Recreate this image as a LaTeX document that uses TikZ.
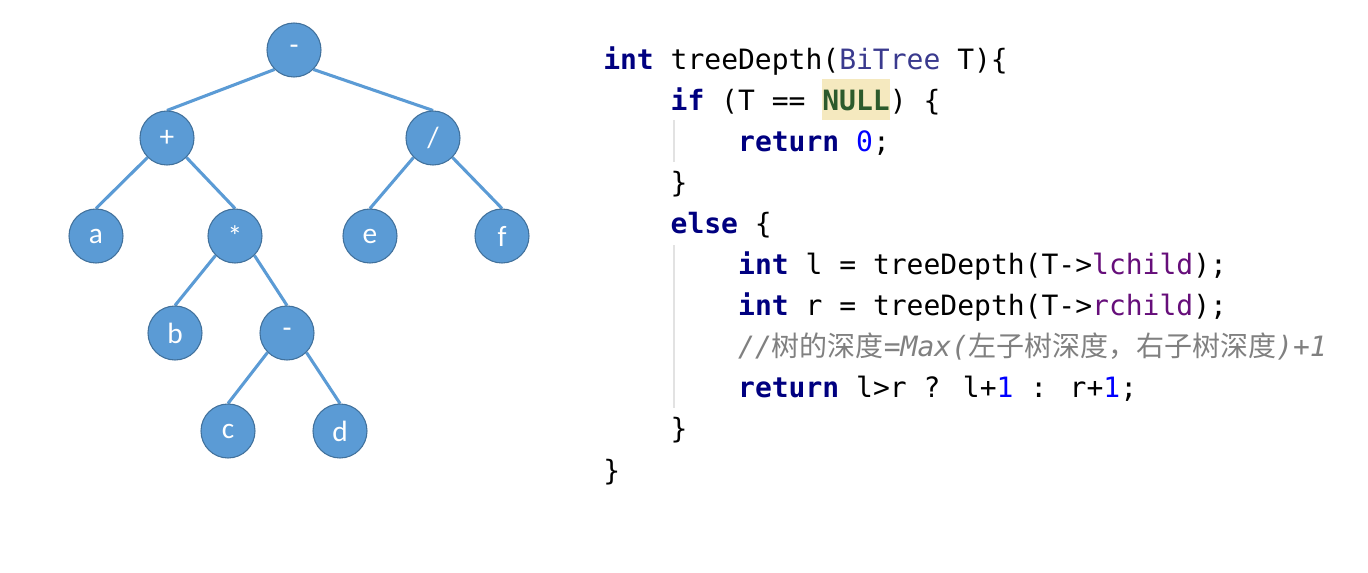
\documentclass[tikz,border=0pt]{standalone}
\usepackage{fontspec}
\setmainfont{Carlito}
\newfontfamily\codefont{DejaVu Sans Mono}
\newfontfamily\cjkfont{Noto Sans CJK SC}
\usetikzlibrary{backgrounds}
\definecolor{nodefill}{HTML}{5B9BD5}
\definecolor{nodeline}{HTML}{41719C}
\definecolor{kwc}{HTML}{000080}
\definecolor{clsc}{HTML}{3A3A8E}
\definecolor{nullc}{HTML}{2C5A2C}
\definecolor{nullbg}{HTML}{F5E9BF}
\definecolor{numc}{HTML}{0000FF}
\definecolor{fldc}{HTML}{660E7A}
\definecolor{cmtc}{HTML}{808080}
\definecolor{guidec}{HTML}{E2E2E2}
\newcommand{\kwd}[1]{{\bfseries\color{kwc}#1}}
\newcommand{\numv}[1]{{\color{numc}#1}}
\newcommand{\fldv}[1]{{\color{fldc}#1}}
\begin{document}
\begin{tikzpicture}[x=0.75pt,y=-0.75pt,
  tn/.style={circle, fill=nodefill, draw=nodeline, line width=0.8pt,
    minimum size=40.5pt, inner sep=0pt, text=white,
    font=\fontsize{22}{26}\selectfont},
  treeedge/.style={draw=nodefill, line width=2.3pt},
  codeline/.style={anchor=base west, inner sep=0pt,
    font=\codefont\fontsize{21}{25}\selectfont},
  guide/.style={draw=guidec, line width=0.8pt}]
\useasboundingbox (0,0) rectangle (1368,572);

% tree
\node[tn] (n1) at (294,50) {-};
\node[tn] (n2) at (167,138) {+};
\node[tn] (n3) at (433,138) {/};
\node[tn] (n4) at (96,236) {a};
\node[tn] (n5) at (235,236) {*};
\node[tn] (n6) at (370,236) {e};
\node[tn] (n7) at (502,236) {f};
\node[tn] (n8) at (175,333) {b};
\node[tn] (n9) at (287,333) {-};
\node[tn] (n10) at (228,431) {c};
\node[tn] (n11) at (340,431) {d};
\begin{scope}[on background layer]
\fill[white] (0,0) rectangle (1368,572);
\draw[treeedge] (n1.south west) -- (n2.north);
\draw[treeedge] (n1.south east) -- (n3.north);
\draw[treeedge] (n2.south west) -- (n4.north);
\draw[treeedge] (n2.south east) -- (n5.north);
\draw[treeedge] (n3.south west) -- (n6.north);
\draw[treeedge] (n3.south east) -- (n7.north);
\draw[treeedge] (n5.south west) -- (n8.north);
\draw[treeedge] (n5.south east) -- (n9.north);
\draw[treeedge] (n9.south west) -- (n10.north);
\draw[treeedge] (n9.south east) -- (n11.north);
\end{scope}

% code guides
\coordinate (g1a) at (674,120);
\coordinate (g1b) at (674,162);
\coordinate (g2a) at (674,245);
\coordinate (g2b) at (674,408);
\draw[guide] (g1a) -- (g1b);
\draw[guide] (g2a) -- (g2b);

% code
\node[codeline] (c0) at (603,69) {\kwd{int} treeDepth({\color{clsc}BiTree} T)\{};
\node[codeline] (c1) at (670.4,110.1) {\kwd{if} (T == {\setlength{\fboxsep}{0pt}\colorbox{nullbg}{\rule[-7.5pt]{0pt}{30.75pt}\bfseries\color{nullc}NULL}}) \{};
\node[codeline] (c2) at (737.9,151.2) {\kwd{return} \numv{0};};
\node[codeline] (c3) at (670.4,192.3) {\}};
\node[codeline] (c4) at (670.4,233.4) {\kwd{else} \{};
\node[codeline] (c5) at (737.9,274.5) {\kwd{int} l = treeDepth(T->\fldv{lchild});};
\node[codeline] (c6) at (737.9,315.6) {\kwd{int} r = treeDepth(T->\fldv{rchild});};
\node[codeline, text=cmtc] (c7) at (737.9,356.7) {\itshape //{\cjkfont 树的深度}=Max({\cjkfont 左子树深度，右子树深度})+1};
\node[codeline] (c8) at (737.9,397.8) {\kwd{return} l>r ? l+\numv{1} : r+\numv{1};};
\node[codeline] (c9) at (670.4,438.9) {\}};
\node[codeline] (c10) at (603,480) {\}};
\end{tikzpicture}
\end{document}
